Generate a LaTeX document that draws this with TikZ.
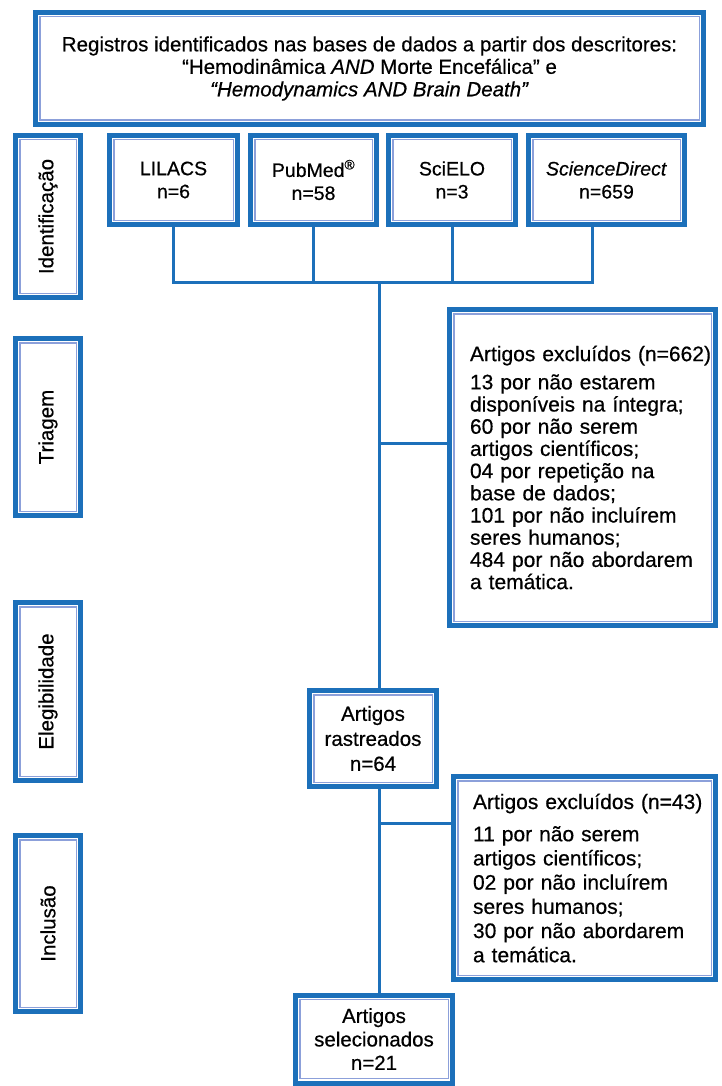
\documentclass[tikz,border=0pt]{standalone}
\usepackage{fontspec}
\setmainfont{Liberation Sans}[FakeBold=0.5]
\usetikzlibrary{positioning}

\definecolor{azul}{RGB}{28,112,186}
\definecolor{azulclaro}{RGB}{140,160,218}

\tikzset{
  bloco/.style={draw=azul, line width=5pt, fill=white, inner sep=0pt, align=center,
    path picture={\draw[azulclaro, line width=1.4pt]
      ([shift={(4.3pt,-4.3pt)}]path picture bounding box.north west) rectangle
      ([shift={(-4.3pt,4.3pt)}]path picture bounding box.south east);}},
  fase/.style={bloco, minimum width=65pt, font=\fontsize{20.5}{24}\selectfont},
  fonte/.style={bloco, minimum height=89pt, font=\fontsize{19.5}{23}\selectfont},
  exclusao/.style={bloco, align=left, inner ysep=0pt, font=\fontsize{21}{22.2}\selectfont},
  ligacao/.style={draw=azul, line width=3pt}
}

\begin{document}
\begin{tikzpicture}[x=1pt,y=-1pt]

\useasboundingbox (0,0) rectangle (721,1086);

\node[bloco, minimum width=668pt, minimum height=112pt, font=\fontsize{20.5}{22.5}\selectfont] (registros) at (369.5,68.5)
  {Registros identificados nas bases de dados a partir dos descritores:\\
   “Hemodinâmica \textit{AND} Morte Encefálica” e\\
   \textit{“Hemodynamics AND Brain Death”}};

\node[fase, minimum height=162pt] (identificacao) at (48,216.5) {\rotatebox{90}{Identificação}};
\node[fase, minimum height=177pt] (triagem) at (48,427) {\rotatebox{90}{Triagem}};
\node[fase, minimum height=178pt] (elegibilidade) at (48,691.5) {\rotatebox{90}{Elegibilidade}};
\node[fase, minimum height=176pt] (inclusao) at (48,923.5) {\rotatebox{90}{Inclusão}};

\node[fonte, minimum width=128pt] (lilacs) at (173.5,180) {LILACS\\n=6};
\node[fonte, minimum width=126pt] (pubmed) at (313.5,180) {PubMed\textsuperscript{®}\\n=58};
\node[fonte, minimum width=127pt] (scielo) at (452,180) {\raisebox{-6pt}{SciELO}\\[6pt]n=3};
\node[fonte, minimum width=156pt] (sd) at (606.5,180) {\textit{ScienceDirect}\\n=659};

\node[exclusao, text width=225pt, inner xsep=20.5pt, minimum height=316pt] (excl1) at (582.5,467.5)
  {\mbox{Artigos excluídos (n=662)}\\[6pt]
   13 por não estarem\\
   disponíveis na íntegra;\\
   60 por não serem\\
   artigos científicos;\\
   04 por repetição na\\
   base de dados;\\
   101 por não incluírem\\
   seres humanos;\\
   484 por não abordarem\\
   a temática.};

\node[bloco, minimum width=127pt, minimum height=96pt, font=\fontsize{20.5}{25}\selectfont] (rastreados) at (373,738.5)
  {Artigos\\rastreados\\n=64};

\node[exclusao, text width=223pt, inner xsep=19.5pt, minimum height=203pt, font=\fontsize{21}{24.2}\selectfont] (excl2) at (584.5,878)
  {\mbox{Artigos excluídos (n=43)}\\[8pt]
   11 por não serem\\
   artigos científicos;\\
   02 por não incluírem\\
   seres humanos;\\
   30 por não abordarem\\
   a temática.};

\node[bloco, minimum width=157pt, minimum height=88pt, font=\fontsize{20.5}{23.5}\selectfont] (selecionados) at (374,1039)
  {Artigos\\selecionados\\n=21};

\coordinate (juncao) at (379,282);
\coordinate (sdbase) at ([xshift=-14.5pt]sd.south);
\coordinate (saida1) at ([yshift=24.5pt]excl1.west);
\coordinate (saida2) at ([yshift=55pt]excl2.west);

\draw[ligacao] (lilacs.south) |- (sdbase |- juncao) -- (sdbase);
\draw[ligacao] (pubmed.south) -- (pubmed.south |- juncao);
\draw[ligacao] (scielo.south) -- (scielo.south |- juncao);
\draw[ligacao] (juncao) -- (juncao |- rastreados.north);
\draw[ligacao] (juncao |- saida1) -- (saida1);
\draw[ligacao] (rastreados.south -| juncao) -- (juncao |- selecionados.north);
\draw[ligacao] (juncao |- saida2) -- (saida2);

\end{tikzpicture}
\end{document}
